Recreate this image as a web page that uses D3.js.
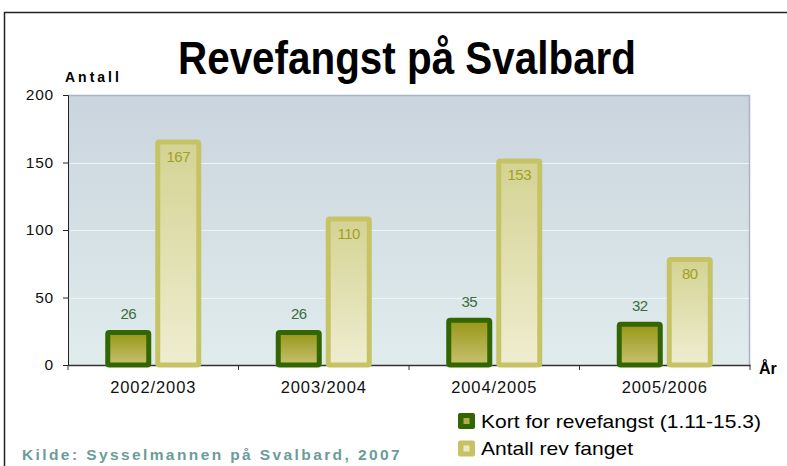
<!DOCTYPE html>
<html>
<head>
<meta charset="utf-8">
<script src="https://cdn.jsdelivr.net/npm/d3@7"></script>
<style>
  body { margin: 0; background: #fff; }
  text { font-family: "Liberation Sans", Arial, sans-serif; }
</style>
</head>
<body>
<svg id="chart" width="787" height="466"></svg>
<script>
// data
var seasons = ["2002/2003", "2003/2004", "2004/2005", "2005/2006"];
var kort = [26, 26, 35, 32];          // Kort for revefangst (1.11-15.3)
var fanget = [167, 110, 153, 80];     // Antall rev fanget
var seriesNames = ["Kort for revefangst (1.11-15.3)", "Antall rev fanget"];
var yTicks = [0, 50, 100, 150, 200];

var svg = d3.select("#chart");
var plotLeft = 68, plotRight = 750, plotTop = 95, plotBottom = 365;

// gradients
var defs = svg.append("defs");
function grad(id, c1, c2) {
    var g = defs.append("linearGradient").attr("id", id)
        .attr("x1", 0).attr("y1", 0).attr("x2", 0).attr("y2", 1);
    g.append("stop").attr("offset", "0%").attr("stop-color", c1);
    g.append("stop").attr("offset", "100%").attr("stop-color", c2);
}
grad("bg", "#cad4de", "#e0ecec");
grad("gDark", "#979716", "#c6c270");
grad("gLight", "#d4d393", "#efedd0");

// outer frame
svg.append("path")
    .attr("d", "M4.5,466 L4.5,12.5 L787,12.5")
    .attr("fill", "none").attr("stroke", "#222").attr("stroke-width", 1.5);

var y = d3.scaleLinear().domain([0, 200]).range([plotBottom, plotTop]);
var x0 = d3.scaleBand().domain(seasons).range([plotLeft, plotRight]);
var groupW = 96;
var x1 = d3.scaleBand().domain([0, 1]).range([-groupW / 2, groupW / 2]).paddingInner(0.08);

// plot background
svg.append("rect")
    .attr("x", plotLeft).attr("y", plotTop)
    .attr("width", plotRight - plotLeft).attr("height", plotBottom - plotTop)
    .attr("fill", "url(#bg)");
svg.append("path")
    .attr("d", "M" + plotLeft + "," + (plotTop + 0.5) + " L" + (plotRight - 0.5) + "," + (plotTop + 0.5) + " L" + (plotRight - 0.5) + "," + plotBottom)
    .attr("fill", "none").attr("stroke", "#a6b4c8").attr("stroke-width", 1.5);

// gridlines
svg.append("g").selectAll("line")
    .data(yTicks.filter(function(d) { return d > 0 && d < 200; }))
    .enter().append("line")
    .attr("x1", plotLeft).attr("x2", plotRight - 1)
    .attr("y1", function(d) { return Math.round(y(d)) + 0.5; })
    .attr("y2", function(d) { return Math.round(y(d)) + 0.5; })
    .attr("stroke", "#eef3f5").attr("stroke-width", 1);

// y axis
var yAxis = svg.append("g")
    .attr("transform", "translate(" + plotLeft + ",0)")
    .call(d3.axisLeft(y).tickValues(yTicks).tickSize(5).tickPadding(9));
yAxis.select(".domain").attr("stroke", "#222");
yAxis.selectAll(".tick line").attr("stroke", "#222");
yAxis.selectAll("text").attr("font-size", 15.5).attr("letter-spacing", 0.8).attr("fill", "#111")
    .style("font-family", "'Liberation Sans', Arial, sans-serif");

// x axis
var xAxis = svg.append("g")
    .attr("transform", "translate(0," + plotBottom + ")")
    .call(d3.axisBottom(x0).tickSize(0).tickPadding(16));
xAxis.select(".domain").attr("stroke", "#333").attr("stroke-width", 1.5);
xAxis.selectAll("text").attr("font-size", 16.5).attr("letter-spacing", 0.9).attr("fill", "#111")
    .style("font-family", "'Liberation Sans', Arial, sans-serif");
svg.append("g").selectAll("line")
    .data(seasons.concat(["end"]))
    .enter().append("line")
    .attr("x1", function(d) { return d === "end" ? plotRight : x0(d); })
    .attr("x2", function(d) { return d === "end" ? plotRight : x0(d); })
    .attr("y1", plotBottom).attr("y2", plotBottom + 5)
    .attr("stroke", "#333");

// bars
var rows = seasons.map(function(s, i) { return { season: s, vals: [kort[i], fanget[i]] }; });
var sw = 5;
var groups = svg.append("g").selectAll("g")
    .data(rows).enter().append("g")
    .attr("transform", function(d) { return "translate(" + (x0(d.season) + x0.bandwidth() / 2) + ",0)"; });

groups.selectAll("rect")
    .data(function(d) { return d.vals.map(function(v, k) { return { v: v, k: k }; }); })
    .enter().append("rect")
    .attr("x", function(d) { return x1(d.k) + sw / 2; })
    .attr("y", function(d) { return y(d.v) + sw / 2; })
    .attr("width", x1.bandwidth() - sw)
    .attr("height", function(d) { return plotBottom - y(d.v) - sw / 2; })
    .attr("rx", 1.5)
    .attr("fill", function(d) { return d.k === 0 ? "url(#gDark)" : "url(#gLight)"; })
    .attr("stroke", function(d) { return d.k === 0 ? "#336600" : "#c6c364"; })
    .attr("stroke-width", sw);

groups.selectAll("text.val")
    .data(function(d) { return d.vals.map(function(v, k) { return { v: v, k: k }; }); })
    .enter().append("text")
    .attr("class", "val")
    .attr("x", function(d) { return x1(d.k) + x1.bandwidth() / 2; })
    .attr("y", function(d) { return d.k === 0 ? y(d.v) - 11 : y(d.v) + 22; })
    .attr("text-anchor", "middle")
    .attr("font-size", 15)
    .attr("letter-spacing", -0.5)
    .attr("fill", function(d) { return d.k === 0 ? "#3d6b3d" : "#a3a020"; })
    .text(function(d) { return d.v; });

// title and axis names
svg.append("text")
    .attr("x", 407).attr("y", 74)
    .attr("text-anchor", "middle")
    .attr("font-size", 46).attr("font-weight", "bold")
    .attr("textLength", 458).attr("lengthAdjust", "spacingAndGlyphs")
    .attr("fill", "#000")
    .text("Revefangst på Svalbard");
svg.append("text")
    .attr("x", 65).attr("y", 82)
    .attr("font-size", 14).attr("font-weight", "bold").attr("letter-spacing", 3)
    .attr("fill", "#000")
    .text("Antall");
svg.append("text")
    .attr("x", 759).attr("y", 374)
    .attr("font-size", 16).attr("font-weight", "bold")
    .attr("fill", "#000")
    .text("År");

// legend
var legendW = [280, 152];
var legend = svg.append("g").selectAll("g")
    .data(seriesNames).enter().append("g")
    .attr("transform", function(d, i) { return "translate(458," + (413 + i * 27.5) + ")"; });
legend.append("rect")
    .attr("width", 17).attr("height", 16).attr("rx", 2)
    .attr("fill", function(d, i) { return i === 0 ? "#336600" : "#c6c364"; });
legend.append("rect")
    .attr("x", 5.5).attr("y", 5).attr("width", 6).attr("height", 6)
    .attr("fill", function(d, i) { return i === 0 ? "#b0ac4a" : "#ecebc8"; });
legend.append("text")
    .attr("x", 23).attr("y", 14.5)
    .attr("font-size", 19)
    .attr("textLength", function(d, i) { return legendW[i]; })
    .attr("lengthAdjust", "spacingAndGlyphs")
    .attr("fill", "#000")
    .text(function(d) { return d; });

// source
svg.append("text")
    .attr("x", 22).attr("y", 460)
    .attr("font-size", 15.5).attr("font-weight", "bold").attr("letter-spacing", 2.4)
    .attr("fill", "#6b9c9a")
    .text("Kilde: Sysselmannen på Svalbard, 2007");
</script>
</body>
</html>
